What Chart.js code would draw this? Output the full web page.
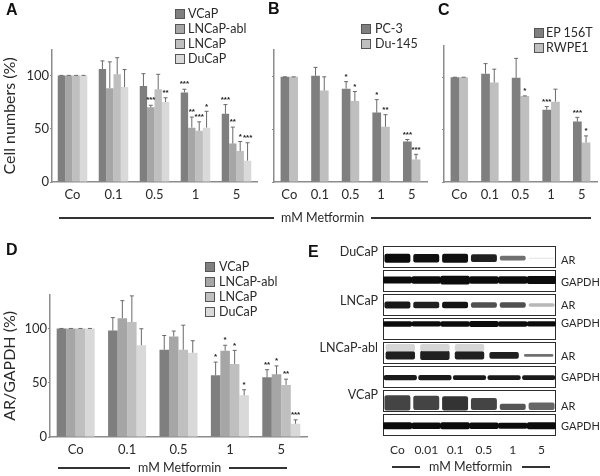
<!DOCTYPE html>
<html>
<head>
<meta charset="utf-8">
<title>Metformin panels</title>
<script src="https://cdn.jsdelivr.net/npm/chart.js@4"></script>
<style>
    html, body { margin: 0; padding: 0; background: #fff; }
    #page { position: relative; width: 600px; height: 476px; overflow: hidden; font-family: Lato, sans-serif; color: #2a2a2a; filter: blur(0.3px); }
    #page canvas { position: absolute; }
    .txt { position: absolute; white-space: nowrap; transform: translateY(-50%); line-height: 1; }
    .swatch { position: absolute; width: 8px; height: 8px; border: 1px solid #555; transform: translateY(-50%); }
    .rule { position: absolute; height: 2px; background: #333; }
</style>
</head>
<body>
<div id="page"></div>
<script>
// Shared category labels
const doses = ['Co', '0.1', '0.5', '1', '5'];
const blotDoses = ['Co', '0.01', '0.1', '0.5', '1', '5'];

// Panel A - cell numbers, androgen dependent lines
const aNames = ['VCaP', 'LNCaP-abl', 'LNCaP', 'DuCaP'];
const aVCaP = [100, 106, 90, 84, 64];
const aAbl = [100, 88, 70, 51, 36];
const aLNCaP = [100, 101, 87, 48, 29];
const aDuCaP = [100, 89, 75, 51, 20];
const aVCaPErr = [100, 113.6, 101.6, 87, 72.6];
const aAblErr = [100, 112.7, 72, 60.9, 51.5];
const aLNCaPErr = [100, 116.6, 101, 56.4, 38];
const aDuCaPErr = [100, 105.5, 79, 66.3, 36.8];
const aVCaPStars = ['', '', '', '***', '***'];
const aAblStars = ['', '', '***', '**', '**'];
const aLNCaPStars = ['', '', '', '***', '*'];
const aDuCaPStars = ['', '', '**', '*', '***'];

// Panel B
const bNames = ['PC-3', 'Du-145'];
const bPC3 = [100, 101, 88.7, 66, 38.5];
const bDu145 = [100, 87, 77, 52.6, 21.4];
const bPC3Err = [100, 109, 95.4, 78.3, 40.4];
const bDu145Err = [100, 100, 86, 64, 26.3];
const bPC3Stars = ['', '', '*', '*', '***'];
const bDu145Stars = ['', '', '*', '**', '***'];

// Panel C
const cNames = ['EP 156T', 'RWPE1'];
const cEP = [100, 103.4, 99.4, 69, 57.7];
const cRWPE = [100, 95, 82, 76.7, 37.7];
const cEPErr = [100, 113, 118, 72, 61.7];
const cRWPEErr = [100, 107.7, 82.2, 88.6, 44];
const cEPStars = ['', '', '', '***', '***'];
const cRWPEStars = ['', '', '*', '', '*'];

// Panel D - AR/GAPDH
const dVCaP = [100, 98, 80.4, 56.8, 55];
const dAbl = [100, 109.5, 92.6, 79.5, 57.7];
const dLNCaP = [100, 106, 80.4, 67.3, 48];
const dDuCaP = [100, 84.5, 77.7, 38.4, 12.2];
const dVCaPErr = [100, 110, 93.5, 69, 62];
const dAblErr = [100, 125.6, 97.6, 84.5, 65.5];
const dLNCaPErr = [100, 130, 103, 79.8, 53.3];
const dDuCaPErr = [100, 99.7, 88.7, 43.5, 15.8];
const dVCaPStars = ['', '', '', '*', '**'];
const dAblStars = ['', '', '', '*', '*'];
const dLNCaPStars = ['', '', '', '*', '**'];
const dDuCaPStars = ['', '', '', '*', '***'];

// Panel E - band thickness (in blot rows) and darkness for each lane
const blotRows = ['AR', 'GAPDH', 'AR', 'GAPDH', 'AR', 'GAPDH', 'AR', 'GAPDH'];
const blotCells = ['DuCaP', 'LNCaP', 'LNCaP-abl', 'VCaP'];
const duCaPArHeight = [0.38, 0.36, 0.38, 0.32, 0.2, 0.04];
const duCaPArShade = ['#0c0c0c', '#101010', '#101010', '#202020', '#707070', '#e2e2e2'];
const duCaPGapdhHeight = [0.26, 0.28, 0.34, 0.28, 0.28, 0.3];
const lncapArHeight = [0.3, 0.28, 0.28, 0.22, 0.22, 0.14];
const lncapArShade = ['#181818', '#202020', '#141414', '#505050', '#505050', '#b8b8b8'];
const lncapGapdhHeight = [0.2, 0.19, 0.2, 0.22, 0.2, 0.19];
const ablArHeight = [0.35, 0.38, 0.35, 0.28, 0.12];
const ablArShade = ['#202020', '#202020', '#202020', '#202020', '#707070'];
const ablSmearHeight = [0.3, 0.3, 0.3, 0, 0];
const ablGapdhHeight = [0.22, 0.22, 0.2, 0.2, 0.2];
const vcapArHeight = [0.64, 0.6, 0.6, 0.5, 0.26, 0.32];
const vcapArCentre = [6.58, 6.58, 6.6, 6.62, 6.74, 6.72];
const vcapArShade = ['#444444', '#444444', '#333333', '#444444', '#555555', '#666666'];
const vcapGapdhHeight = [0.26, 0.24, 0.26, 0.24, 0.22, 0.26];

const barColors = { dark: '#7f7f7f', mid: '#a6a6a6', light: '#bfbfbf', pale: '#d9d9d9' };
const axisColor = '#8c8c8c';
const page = document.getElementById('page');

/**
 * Error bars and significance stars, drawn from the chart's own scales
 */
const errorBarPlugin = {
    id: 'errorBars',
    afterDatasetsDraw(chart) {
        const ctx = chart.ctx;
        const yScale = chart.scales.y;
        chart.data.datasets.forEach((ds, i) => {
            if (!ds.errorTop) return;
            chart.getDatasetMeta(i).data.forEach((bar, j) => {
                const top = yScale.getPixelForValue(ds.errorTop[j]);
                ctx.save();
                ctx.strokeStyle = '#6a6a6a';
                ctx.lineWidth = 1;
                ctx.beginPath();
                ctx.moveTo(bar.x, bar.y);
                ctx.lineTo(bar.x, top);
                ctx.moveTo(bar.x - 2, top);
                ctx.lineTo(bar.x + 2, top);
                ctx.stroke();
                if (ds.stars[j]) {
                    ctx.fillStyle = '#222';
                    ctx.font = 'bold 8px "Liberation Sans"';
                    ctx.textAlign = 'center';
                    ctx.textBaseline = 'middle';
                    ctx.fillText(ds.stars[j], bar.x, top - 5);
                }
                ctx.restore();
            });
        });
    }
};

/**
 * Small helpers for the page furniture
 */
function addText(text, x, y, size, extra) {
    const el = document.createElement('div');
    el.className = 'txt';
    el.textContent = text;
    el.style.left = x + 'px';
    el.style.top = y + 'px';
    el.style.fontSize = size + 'px';
    Object.assign(el.style, extra || {});
    page.appendChild(el);
}

function addRule(x0, x1, y) {
    const el = document.createElement('div');
    el.className = 'rule';
    el.style.left = x0 + 'px';
    el.style.top = (y - 1) + 'px';
    el.style.width = (x1 - x0) + 'px';
    page.appendChild(el);
}

function addLegend(names, colors, swatchX, textX, ys) {
    names.forEach((name, i) => {
        const sw = document.createElement('div');
        sw.className = 'swatch';
        sw.style.left = swatchX + 'px';
        sw.style.top = ys[i] + 'px';
        sw.style.background = colors[i];
        page.appendChild(sw);
        addText(name, textX, ys[i], 12.5);
    });
}

function addPanelLetter(letter, x, y) {
    addText(letter, x, y, 16, { fontFamily: '"Liberation Sans"', fontWeight: 'bold', color: '#111' });
}

/**
 * Create a canvas so the plot area lands on the given box (left, top, right, bottom)
 */
function addCanvas(box, axisWidth, axisHeight) {
    const pad = 4;
    const canvas = document.createElement('canvas');
    canvas.width = box.right - box.left + axisWidth + pad;
    canvas.height = box.bottom - box.top + axisHeight + pad;
    canvas.style.left = (box.left - axisWidth) + 'px';
    canvas.style.top = (box.top - pad) + 'px';
    page.appendChild(canvas);
    return canvas;
}

/**
 * Grouped bar panel (A-D)
 */
function drawBarPanel(opts) {
    const box = opts.box;
    const axisWidth = opts.axisWidth;
    const canvas = addCanvas(box, axisWidth, 24);
    return new Chart(canvas, {
        type: 'bar',
        data: {
            labels: doses,
            datasets: opts.series.map(s => ({
                label: s.label,
                data: s.values,
                errorTop: s.err,
                stars: s.stars,
                backgroundColor: s.color,
                categoryPercentage: opts.groupWidth,
                barPercentage: 1
            }))
        },
        options: {
            responsive: false,
            animation: false,
            layout: { padding: { top: 4, right: 4 } },
            plugins: { legend: { display: false }, tooltip: { enabled: false } },
            scales: {
                x: {
                    grid: { display: false, tickLength: 0 },
                    border: { color: axisColor, width: 1.5 },
                    ticks: { color: '#2a2a2a', font: { family: 'Lato', size: 13 }, padding: 5, maxRotation: 0 },
                    afterFit(scale) { scale.height = 24; }
                },
                y: {
                    min: 0,
                    max: opts.max,
                    grid: { drawOnChartArea: false, tickLength: 2, color: axisColor },
                    border: { color: axisColor, width: 1.5 },
                    title: opts.title
                        ? { display: true, text: opts.title, color: '#2a2a2a', font: { family: 'Lato', size: 16 }, padding: 0 }
                        : { display: false },
                    ticks: {
                        stepSize: 50,
                        padding: 1,
                        color: '#2a2a2a',
                        font: { family: 'Lato', size: 13 },
                        callback: v => (opts.title ? v : '')
                    },
                    // no tick at the top of the axis, only 0, 50 and 100
                    afterBuildTicks(scale) { scale.ticks = scale.ticks.filter(t => t.value % 50 === 0); },
                    afterFit(scale) { scale.width = axisWidth; }
                }
            }
        },
        plugins: [errorBarPlugin]
    });
}

/**
 * Frames around the blot strips
 */
const blotFramePlugin = {
    id: 'blotFrames',
    beforeDatasetsDraw(chart) {
        const ctx = chart.ctx;
        const area = chart.chartArea;
        const y = chart.scales.y;
        ctx.save();
        ctx.strokeStyle = '#2c2c2c';
        ctx.lineWidth = 1;
        blotRows.forEach((name, i) => {
            const top = Math.round(y.getPixelForValue(i + 0.05)) + 0.5;
            const bottom = Math.round(y.getPixelForValue(i + 0.95)) - 0.5;
            ctx.strokeRect(area.left + 0.5, top, area.right - area.left - 1, bottom - top);
        });
        ctx.filter = 'blur(0.7px)';
    },
    afterDatasetsDraw(chart) {
        chart.ctx.restore();
    }
};

/**
 * One row of bands as floating bars around the row centre
 */
function bandSet(label, centre, heights, shades, xAxisID, laneWidth) {
    return {
        label: label,
        data: heights.map((h, i) => {
            const c = Array.isArray(centre) ? centre[i] : centre;
            return [c - h / 2, c + h / 2];
        }),
        backgroundColor: shades,
        xAxisID: xAxisID || 'x',
        grouped: false,
        barPercentage: laneWidth || 0.9,
        categoryPercentage: 1,
        borderRadius: 2,
        borderSkipped: false
    };
}

function drawBlotPanel() {
    const canvas = addCanvas({ left: 383, top: 245, right: 556, bottom: 437 }, 0, 26);
    const black = '#0c0c0c';
    return new Chart(canvas, {
        type: 'bar',
        data: {
            labels: blotDoses,
            datasets: [
                bandSet('DuCaP AR', 0.55, duCaPArHeight, duCaPArShade),
                bandSet('DuCaP GAPDH', 1.46, duCaPGapdhHeight, black, 'x', 1),
                bandSet('LNCaP AR', 2.5, lncapArHeight, lncapArShade),
                bandSet('LNCaP GAPDH', 3.29, lncapGapdhHeight, black, 'x', 1),
                bandSet('LNCaP-abl smear', 4.28, ablSmearHeight, '#d6d6d6', 'xAbl', 0.85),
                bandSet('LNCaP-abl AR', 4.6, ablArHeight, ablArShade, 'xAbl', 0.85),
                bandSet('LNCaP-abl GAPDH', 5.53, ablGapdhHeight, '#1a1a1a', 'xAbl', 0.96),
                bandSet('VCaP AR', vcapArCentre, vcapArHeight, vcapArShade),
                bandSet('VCaP GAPDH', 7.53, vcapGapdhHeight, black, 'x', 1)
            ]
        },
        options: {
            responsive: false,
            animation: false,
            layout: { padding: { top: 4, right: 4 } },
            plugins: { legend: { display: false }, tooltip: { enabled: false } },
            scales: {
                x: {
                    grid: { display: false, tickLength: 0 },
                    border: { display: false },
                    ticks: { color: '#2a2a2a', font: { family: 'Lato', size: 12 }, padding: 6, maxRotation: 0 },
                    afterFit(scale) { scale.height = 26; }
                },
                // the LNCaP-abl strips only have five lanes
                xAbl: {
                    type: 'category',
                    labels: ['1', '2', '3', '4', '5'],
                    display: false
                },
                y: { min: 0, max: 8, reverse: true, display: false }
            }
        },
        plugins: [blotFramePlugin]
    });
}

document.addEventListener('DOMContentLoaded', function() {
    const fourGreys = [barColors.dark, barColors.mid, barColors.light, barColors.pale];

    drawBarPanel({
        box: { left: 52, top: 45, right: 257, bottom: 182 },
        axisWidth: 52,
        max: 124,
        groupWidth: 0.72,
        title: 'Cell numbers (%)',
        series: [
            { label: 'VCaP', values: aVCaP, err: aVCaPErr, stars: aVCaPStars, color: fourGreys[0] },
            { label: 'LNCaP-abl', values: aAbl, err: aAblErr, stars: aAblStars, color: fourGreys[1] },
            { label: 'LNCaP', values: aLNCaP, err: aLNCaPErr, stars: aLNCaPStars, color: fourGreys[2] },
            { label: 'DuCaP', values: aDuCaP, err: aDuCaPErr, stars: aDuCaPStars, color: fourGreys[3] }
        ]
    });
    drawBarPanel({
        box: { left: 274, top: 45, right: 427, bottom: 182 },
        axisWidth: 4,
        max: 125.7,
        groupWidth: 0.57,
        series: [
            { label: 'PC-3', values: bPC3, err: bPC3Err, stars: bPC3Stars, color: barColors.dark },
            { label: 'Du-145', values: bDu145, err: bDu145Err, stars: bDu145Stars, color: barColors.light }
        ]
    });
    drawBarPanel({
        box: { left: 444, top: 41, right: 597, bottom: 182 },
        axisWidth: 4,
        max: 130,
        groupWidth: 0.57,
        series: [
            { label: 'EP 156T', values: cEP, err: cEPErr, stars: cEPStars, color: barColors.dark },
            { label: 'RWPE1', values: cRWPE, err: cRWPEErr, stars: cRWPEStars, color: barColors.light }
        ]
    });
    drawBarPanel({
        box: { left: 50, top: 290, right: 307, bottom: 437 },
        axisWidth: 50,
        max: 131,
        groupWidth: 0.74,
        title: 'AR/GAPDH (%)',
        series: [
            { label: 'VCaP', values: dVCaP, err: dVCaPErr, stars: dVCaPStars, color: fourGreys[0] },
            { label: 'LNCaP-abl', values: dAbl, err: dAblErr, stars: dAblStars, color: fourGreys[1] },
            { label: 'LNCaP', values: dLNCaP, err: dLNCaPErr, stars: dLNCaPStars, color: fourGreys[2] },
            { label: 'DuCaP', values: dDuCaP, err: dDuCaPErr, stars: dDuCaPStars, color: fourGreys[3] }
        ]
    });
    drawBlotPanel();

    // Legends
    addLegend(aNames, fourGreys, 175, 188, [14, 29, 44, 59]);
    addLegend(bNames, [barColors.dark, barColors.light], 361, 375, [29, 44]);
    addLegend(cNames, [barColors.dark, barColors.light], 534, 546, [33, 48]);
    addLegend(aNames, fourGreys, 205, 219, [267, 282, 297, 312]);

    // Panel letters
    addPanelLetter('A', 6, 10);
    addPanelLetter('B', 268, 9);
    addPanelLetter('C', 438, 10);
    addPanelLetter('D', 6, 250);
    addPanelLetter('E', 308, 252);

    // Dose rules under the panels
    addRule(59, 274, 218);
    addText('mM Metformin', 281, 218, 12.5);
    addRule(371, 591, 218);
    addRule(58, 130, 468);
    addText('mM Metformin', 138, 468, 12.5);
    addRule(229, 287, 468);
    addRule(392, 420, 467);
    addText('mM Metformin', 429, 467, 12.5);
    addRule(522, 550, 467);

    // Blot labels
    const cellYs = [252, 301, 348, 395];
    blotCells.forEach((name, i) => {
        addText(name, 0, cellYs[i], 12.5, { left: 'auto', right: (600 - 378) + 'px' });
    });
    const rowYs = [259, 281, 304, 322, 355, 376, 405, 425];
    blotRows.forEach((name, i) => {
        addText(name, 561, rowYs[i], 11);
    });
});
</script>
</body>
</html>
